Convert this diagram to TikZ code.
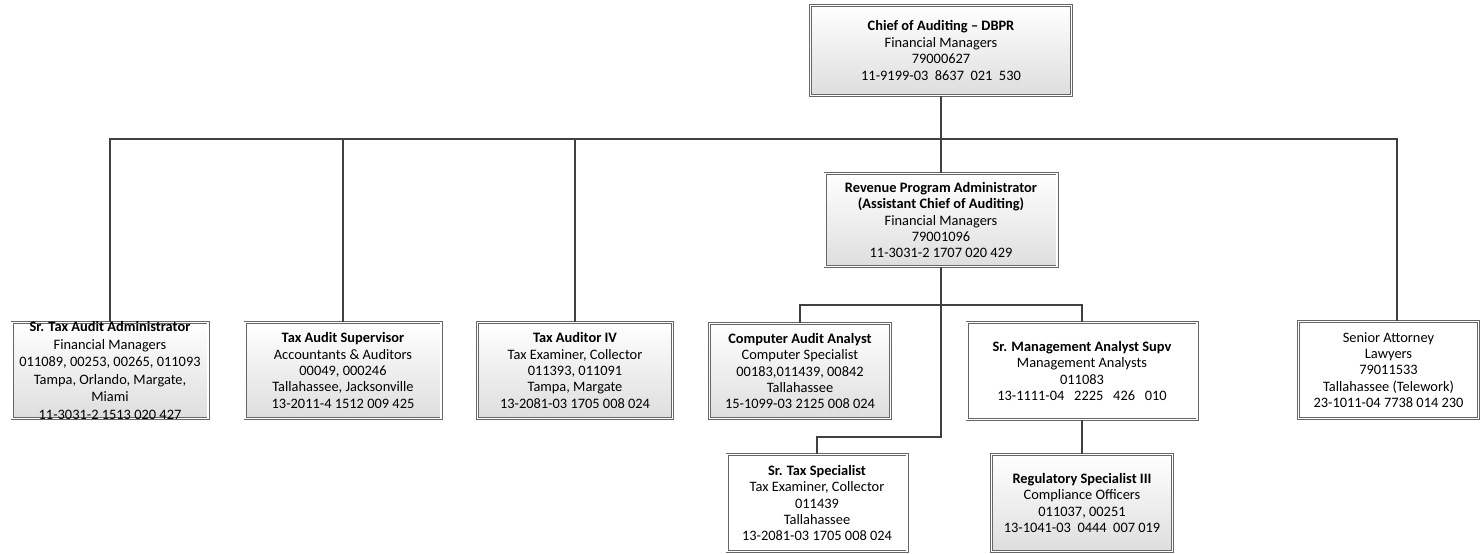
\documentclass[tikz,border=0pt]{standalone}
\usepackage{fontspec}
\setmainfont{Carlito}
\begin{document}
\begin{tikzpicture}[x=1pt,y=-1pt,
  txt/.style={font=\fontsize{14.4}{16.4}\selectfont, align=center, text=black},
  orgbox/.style={txt, draw=black!60, double=white, double distance=1.6pt,
    line width=0.7pt, inner sep=0pt, rectangle},
  shaded/.style={orgbox, top color=white, bottom color=black!13},
  plain/.style={orgbox, fill=white},
  conn/.style={draw=black!75, line width=1.4pt}]
\useasboundingbox (0,0) rectangle (1481,554);

% bus coordinates
\coordinate (busL) at (110,139);
\coordinate (busR) at (1397,139);
\coordinate (bus2L) at (800,305);
\coordinate (bus2R) at (1082,305);
\coordinate (stsbend) at (941,437);

% top level
\node[shaded, minimum width=261, minimum height=90] (chief) at (941,50.5)
  {\textbf{Chief of Auditing – DBPR}\\Financial Managers\\79000627\\11-9199-03\ \ 8637\ \ 021\ \ 530};

% second level
\node[shaded, minimum width=232, minimum height=93] (rpa) at (941,220)
  {\textbf{Revenue Program Administrator}\\\textbf{(Assistant Chief of Auditing)}\\Financial Managers\\79001096\\11-3031-2 1707 020 429};

\node[shaded, minimum width=196, minimum height=96] (staa) at (110,370.5) {};
\node[txt, font=\fontsize{14.4}{17.6}\selectfont] (staatext) at (staa.center)
  {\textbf{Sr. Tax Audit Administrator}\\Financial Managers\\011089, 00253, 00265, 011093\\Tampa, Orlando, Margate,\\Miami\\11-3031-2 1513 020 427};

\node[shaded, minimum width=196, minimum height=96] (tas) at (343,370.5)
  {\textbf{Tax Audit Supervisor}\\Accountants \& Auditors\\00049, 000246\\Tallahassee, Jacksonville\\13-2011-4 1512 009 425};

\node[shaded, minimum width=195, minimum height=96] (ta4) at (575,370.5)
  {\textbf{Tax Auditor IV}\\Tax Examiner, Collector\\011393, 011091\\Tampa, Margate\\13-2081-03 1705 008 024};

\node[plain, minimum width=180, minimum height=97] (sa) at (1388.5,370)
  {Senior Attorney\\Lawyers\\79011533\\Tallahassee (Telework)\\23-1011-04 7738 014 230};

% third level
\node[shaded, minimum width=181, minimum height=95] (caa) at (800,371)
  {\textbf{Computer Audit Analyst}\\Computer Specialist\\00183,011439, 00842\\Tallahassee\\15-1099-03 2125 008 024};

\node[plain, minimum width=230, minimum height=97] (smas) at (1082,371)
  {\textbf{Sr. Management Analyst Supv}\\Management Analysts\\011083\\13-1111-04\ \ \ 2225\ \ \ 426\ \ \ 010};

\node[plain, minimum width=180, minimum height=97] (sts) at (817,503)
  {\textbf{Sr. Tax Specialist}\\Tax Examiner, Collector\\011439\\Tallahassee\\13-2081-03 1705 008 024};

\node[shaded, minimum width=181, minimum height=97] (rs3) at (1082,503)
  {\textbf{Regulatory Specialist III}\\Compliance Officers\\011037, 00251\\13-1041-03\ \ 0444\ \ 007 019};

% lines from the chief
\draw[conn] (chief.south) -- (chief.south |- busL);
\draw[conn] (staa.north) -- (busL) -- (busR) -- (busR |- sa.north);
\draw[conn] (tas.north) -- (tas.north |- busL);
\draw[conn] (ta4.north) -- (ta4.north |- busL);
\draw[conn] (chief.south |- busL) -- (rpa.north);

% lines from the revenue program administrator
\draw[conn] (rpa.south) -- (stsbend) -| (sts.north);
\draw[conn] (caa.north) -- (caa.north |- bus2L) -- (bus2R) -- (smas.north);
\draw[conn] (smas.south) -- (rs3.north);
\end{tikzpicture}
\end{document}
